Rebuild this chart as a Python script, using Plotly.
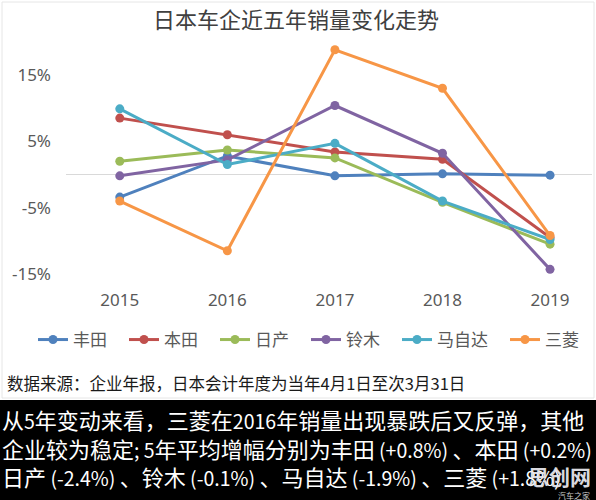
import re
import plotly.graph_objects as go

years = ["2015", "2016", "2017", "2018", "2019"]
toyota = [-3.4, 2.8, -0.2, 0.1, -0.1]
honda = [8.5, 6.0, 3.4, 2.3, -9.5]
nissan = [2.0, 3.7, 2.5, -4.2, -10.5]
suzuki = [-0.2, 2.2, 10.4, 3.2, -14.3]
mazda = [9.9, 1.5, 4.7, -4.0, -9.8]
mitsubishi = [-4.0, -11.5, 18.8, 13.0, -9.2]

series_names = ["丰田", "本田", "日产", "铃木", "马自达", "三菱"]
series_values = [toyota, honda, nissan, suzuki, mazda, mitsubishi]
series_colors = ["#4F81BD", "#C0504D", "#9BBB59", "#8064A2", "#4BACC6", "#F79646"]

y_tick_vals = [15, 5, -5, -15]
y_tick_text = ["15%", "5%", "-5%", "-15%"]

title_text = "日本车企近五年销量变化走势"
source_text = "数据来源：企业年报，日本会计年度为当年4月1日至次3月31日"
summary_lines = [
    "从5年变动来看，三菱在2016年销量出现暴跌后又反弹，其他",
    "企业较为稳定; 5年平均增幅分别为丰田 (+0.8%) 、本田 (+0.2%)",
    "日产 (-2.4%) 、铃木 (-0.1%) 、马自达 (-1.9%) 、三菱 (+1.8%)",
]

CJK = "Noto Sans CJK SC, sans-serif"
LAT = "Noto Sans, Noto Sans CJK SC, sans-serif"

W, H = 596, 500
ML, MR, MT, MB = 66, 4, 36, 212
PW = W - ML - MR
PH = H - MT - MB


def px(x):
    return (x - ML) / PW


def py(y):
    return (H - MB - y) / PH


def shrink_latin(s, size):
    # render ASCII runs slightly smaller so they are as narrow as in the original
    return re.sub(r"([\x20-\x7e]+)", lambda m: '<span style="font-size:%.1fpx">%s</span>' % (size, m.group(1)), s)


LEG_FS = 17
fig = go.Figure()
for name, vals, col in zip(series_names, series_values, series_colors):
    fig.add_trace(go.Scatter(
        x=years, y=vals, name=name, mode="lines+markers",
        line=dict(color=col, width=3),
        marker=dict(color=col, size=9),
        legendwidth=LEG_FS * len(name) + 12,
    ))

fig.update_layout(
    width=W, height=H,
    margin=dict(l=ML, r=MR, t=MT, b=MB),
    paper_bgcolor="white", plot_bgcolor="white",
    font=dict(family=CJK, color="#595959"),
    showlegend=True,
    legend=dict(
        orientation="h", x=px(37), xanchor="left", y=py(340), yanchor="middle",
        font=dict(size=LEG_FS, color="#595959", family=CJK), itemwidth=30,
        bgcolor="rgba(0,0,0,0)", tracegroupgap=0,
    ),
    xaxis=dict(
        type="category", range=[-0.5, 4.39], showgrid=False, zeroline=False,
        showline=False, ticks="", tickfont=dict(size=17, color="#595959", family=LAT),
    ),
    yaxis=dict(
        range=[-17.11, 20.88], tickvals=y_tick_vals, ticktext=y_tick_text,
        showgrid=False, zeroline=True, zerolinecolor="#D9D9D9", zerolinewidth=1,
        showline=False, ticks="", tickfont=dict(size=17, color="#595959", family=LAT),
        ticklabelstandoff=14,
    ),
)

shapes = [
    dict(type="rect", xref="paper", yref="paper", x0=px(2), x1=px(594), y0=py(398), y1=py(2),
         line=dict(color="#E6E6E6", width=1), fillcolor="rgba(0,0,0,0)", layer="below"),
    dict(type="rect", xref="paper", yref="paper", x0=px(0), x1=px(596), y0=py(500), y1=py(400),
         line=dict(width=0), fillcolor="black", layer="above"),
]
fig.update_layout(shapes=shapes)

annots = [
    dict(text=title_text, x=px(296), y=py(18), xref="paper", yref="paper",
         xanchor="center", yanchor="middle", showarrow=False,
         font=dict(size=22, color="#404040", family=CJK)),
    dict(text=source_text, x=px(5), y=py(383), xref="paper", yref="paper",
         xanchor="left", yanchor="middle", showarrow=False,
         font=dict(size=16.5, color="#1a1a1a", family=CJK)),
    dict(text="<br>".join(shrink_latin(t, 19.5) for t in summary_lines),
         x=px(0), y=py(400.5), xref="paper", yref="paper",
         xanchor="left", yanchor="top", align="left", showarrow=False,
         font=dict(size=22, color="white", family=CJK)),
    dict(text="<b>思创网</b>", x=px(559), y=py(476), xref="paper", yref="paper",
         xanchor="center", yanchor="middle", showarrow=False,
         font=dict(size=21, color="rgba(232,232,238,0.95)", family=CJK)),
    dict(text="汽车之家", x=px(574), y=py(495), xref="paper", yref="paper",
         xanchor="center", yanchor="middle", showarrow=False,
         font=dict(size=8, color="#cccccc", family=CJK)),
]
fig.update_layout(annotations=annots)

fig.write_html("out.html")
